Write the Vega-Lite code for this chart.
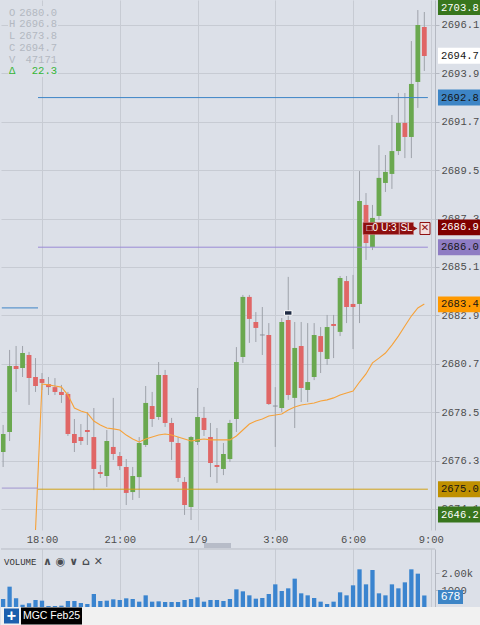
{
  "$schema": "https://vega.github.io/schema/vega-lite/v6.json",
  "background": "#dce0e8",
  "padding": 0,
  "spacing": 0,
  "config": {
    "view": {"stroke": null},
    "axis": {"labelFont": "Liberation Mono", "labelColor": "#4d4d4d", "gridColor": "#c7cbd3", "gridWidth": 1, "domainColor": "#b5b9c2", "tickColor": "#b5b9c2"}
  },
  "datasets": {
    "candles": [
      {"i": -6, "o": 2676.69, "h": 2677.92, "l": 2676.01, "c": 2677.51, "v": 471},
      {"i": -5, "o": 2677.60, "h": 2681.33, "l": 2677.19, "c": 2680.60, "v": 1196},
      {"i": -4, "o": 2680.60, "h": 2681.51, "l": 2679.42, "c": 2680.46, "v": 510},
      {"i": -3, "o": 2680.51, "h": 2681.51, "l": 2680.10, "c": 2681.19, "v": 137},
      {"i": -2, "o": 2681.10, "h": 2681.24, "l": 2678.83, "c": 2680.05, "v": 216},
      {"i": -1, "o": 2680.10, "h": 2680.96, "l": 2679.42, "c": 2679.69, "v": 412, "ma": 2672.7},
      {"i": 0, "o": 2680.01, "h": 2680.28, "l": 2679.51, "c": 2679.83, "v": 373, "ma": 2679.78},
      {"i": 1, "o": 2679.78, "h": 2680.10, "l": 2679.28, "c": 2679.64, "v": 59, "ma": 2679.74},
      {"i": 2, "o": 2679.64, "h": 2680.05, "l": 2679.28, "c": 2679.42, "v": 59, "ma": 2679.69},
      {"i": 3, "o": 2679.42, "h": 2679.74, "l": 2678.92, "c": 2679.28, "v": 78, "ma": 2679.64},
      {"i": 4, "o": 2679.33, "h": 2679.42, "l": 2677.42, "c": 2677.51, "v": 353, "ma": 2679.28},
      {"i": 5, "o": 2677.51, "h": 2678.19, "l": 2676.69, "c": 2677.10, "v": 353, "ma": 2678.69},
      {"i": 6, "o": 2677.37, "h": 2677.96, "l": 2677.01, "c": 2677.19, "v": 235, "ma": 2678.55},
      {"i": 7, "o": 2677.69, "h": 2678.51, "l": 2677.01, "c": 2677.60, "v": 176, "ma": 2678.46},
      {"i": 8, "o": 2677.37, "h": 2678.69, "l": 2674.96, "c": 2675.92, "v": 765, "ma": 2678.10},
      {"i": 9, "o": 2675.78, "h": 2676.10, "l": 2675.51, "c": 2675.69, "v": 353, "ma": 2677.92},
      {"i": 10, "o": 2675.60, "h": 2677.69, "l": 2675.10, "c": 2677.19, "v": 373, "ma": 2677.78},
      {"i": 11, "o": 2676.92, "h": 2679.15, "l": 2676.33, "c": 2676.60, "v": 451, "ma": 2677.74},
      {"i": 12, "o": 2676.51, "h": 2676.69, "l": 2675.87, "c": 2676.05, "v": 412, "ma": 2677.69},
      {"i": 13, "o": 2676.01, "h": 2676.37, "l": 2674.28, "c": 2674.83, "v": 510, "ma": 2677.46},
      {"i": 14, "o": 2674.87, "h": 2676.01, "l": 2674.51, "c": 2675.60, "v": 471, "ma": 2677.28},
      {"i": 15, "o": 2675.55, "h": 2677.37, "l": 2674.60, "c": 2677.10, "v": 314, "ma": 2677.15},
      {"i": 16, "o": 2677.01, "h": 2679.69, "l": 2676.92, "c": 2678.92, "v": 686, "ma": 2677.28},
      {"i": 17, "o": 2678.78, "h": 2679.42, "l": 2677.83, "c": 2678.19, "v": 314, "ma": 2677.37},
      {"i": 18, "o": 2678.28, "h": 2680.78, "l": 2678.15, "c": 2680.19, "v": 333, "ma": 2677.46},
      {"i": 19, "o": 2680.19, "h": 2680.42, "l": 2677.83, "c": 2678.01, "v": 294, "ma": 2677.51},
      {"i": 20, "o": 2678.01, "h": 2678.24, "l": 2676.33, "c": 2677.15, "v": 294, "ma": 2677.46},
      {"i": 21, "o": 2677.10, "h": 2677.37, "l": 2675.33, "c": 2675.51, "v": 294, "ma": 2677.37},
      {"i": 22, "o": 2675.33, "h": 2675.55, "l": 2673.83, "c": 2674.28, "v": 412, "ma": 2677.28},
      {"i": 23, "o": 2674.19, "h": 2677.42, "l": 2673.60, "c": 2677.37, "v": 471, "ma": 2677.19},
      {"i": 24, "o": 2677.15, "h": 2679.60, "l": 2677.01, "c": 2678.28, "v": 569, "ma": 2677.24},
      {"i": 25, "o": 2678.24, "h": 2678.74, "l": 2677.42, "c": 2677.69, "v": 314, "ma": 2677.28},
      {"i": 26, "o": 2677.37, "h": 2678.01, "l": 2675.55, "c": 2676.19, "v": 412, "ma": 2677.24},
      {"i": 27, "o": 2676.10, "h": 2677.78, "l": 2675.28, "c": 2676.01, "v": 412, "ma": 2677.24},
      {"i": 28, "o": 2675.92, "h": 2677.10, "l": 2675.64, "c": 2676.60, "v": 353, "ma": 2677.24},
      {"i": 29, "o": 2676.37, "h": 2678.15, "l": 2676.24, "c": 2678.01, "v": 471, "ma": 2677.24},
      {"i": 30, "o": 2678.19, "h": 2681.46, "l": 2677.60, "c": 2680.78, "v": 1039, "ma": 2677.42},
      {"i": 31, "o": 2681.01, "h": 2683.83, "l": 2680.74, "c": 2683.74, "v": 922, "ma": 2677.69},
      {"i": 32, "o": 2683.74, "h": 2683.83, "l": 2681.65, "c": 2682.74, "v": 686, "ma": 2677.96},
      {"i": 33, "o": 2682.60, "h": 2683.05, "l": 2681.69, "c": 2682.33, "v": 490, "ma": 2678.10},
      {"i": 34, "o": 2682.03, "h": 2683.28, "l": 2681.10, "c": 2681.99, "v": 529, "ma": 2678.19},
      {"i": 35, "o": 2682.01, "h": 2682.55, "l": 2678.83, "c": 2678.87, "v": 765, "ma": 2678.33},
      {"i": 36, "o": 2678.80, "h": 2679.64, "l": 2676.92, "c": 2678.76, "v": 1333, "ma": 2678.37},
      {"i": 37, "o": 2678.69, "h": 2682.78, "l": 2678.51, "c": 2682.60, "v": 941, "ma": 2678.42},
      {"i": 38, "o": 2682.69, "h": 2684.65, "l": 2679.06, "c": 2679.28, "v": 1098, "ma": 2678.60},
      {"i": 39, "o": 2679.15, "h": 2682.60, "l": 2677.78, "c": 2681.42, "v": 1667, "ma": 2678.74},
      {"i": 40, "o": 2681.51, "h": 2682.60, "l": 2678.96, "c": 2679.60, "v": 804, "ma": 2678.83},
      {"i": 41, "o": 2679.51, "h": 2682.55, "l": 2678.96, "c": 2679.87, "v": 686, "ma": 2678.87},
      {"i": 42, "o": 2680.10, "h": 2682.55, "l": 2679.96, "c": 2682.01, "v": 529, "ma": 2678.92},
      {"i": 43, "o": 2681.96, "h": 2682.37, "l": 2680.28, "c": 2681.24, "v": 314, "ma": 2679.01},
      {"i": 44, "o": 2680.92, "h": 2682.92, "l": 2680.65, "c": 2682.37, "v": 176, "ma": 2679.06},
      {"i": 45, "o": 2682.51, "h": 2682.92, "l": 2680.96, "c": 2682.42, "v": 314, "ma": 2679.15},
      {"i": 46, "o": 2682.15, "h": 2684.69, "l": 2681.96, "c": 2684.60, "v": 863, "ma": 2679.28},
      {"i": 47, "o": 2684.46, "h": 2684.69, "l": 2682.55, "c": 2683.28, "v": 686, "ma": 2679.37},
      {"i": 48, "o": 2683.42, "h": 2684.74, "l": 2681.37, "c": 2683.28, "v": 1275, "ma": 2679.46},
      {"i": 49, "o": 2683.42, "h": 2689.46, "l": 2682.55, "c": 2688.10, "v": 2216, "ma": 2679.87},
      {"i": 50, "o": 2687.92, "h": 2688.46, "l": 2685.42, "c": 2686.19, "v": 1333, "ma": 2680.24},
      {"i": 51, "o": 2686.01, "h": 2687.92, "l": 2685.87, "c": 2687.33, "v": 2176, "ma": 2680.74},
      {"i": 52, "o": 2687.42, "h": 2690.64, "l": 2687.24, "c": 2689.15, "v": 804, "ma": 2680.96},
      {"i": 53, "o": 2688.92, "h": 2690.19, "l": 2688.51, "c": 2689.42, "v": 686, "ma": 2681.19},
      {"i": 54, "o": 2689.33, "h": 2692.01, "l": 2688.65, "c": 2690.37, "v": 1333, "ma": 2681.55},
      {"i": 55, "o": 2690.37, "h": 2693.01, "l": 2690.19, "c": 2691.65, "v": 1098, "ma": 2681.96},
      {"i": 56, "o": 2691.65, "h": 2693.01, "l": 2690.05, "c": 2691.01, "v": 1451, "ma": 2682.42},
      {"i": 57, "o": 2691.01, "h": 2695.37, "l": 2690.05, "c": 2693.42, "v": 2216, "ma": 2682.87},
      {"i": 58, "o": 2693.51, "h": 2696.78, "l": 2692.33, "c": 2696.10, "v": 1961, "ma": 2683.24},
      {"i": 59, "o": 2696.01, "h": 2696.69, "l": 2694.01, "c": 2694.69, "v": 678, "ma": 2683.42}
    ],
    "tags": [
      {"p": 2694.7, "kind": "last"},
      {"p": 2692.8, "kind": "blue"},
      {"p": 2686.9, "kind": "order"},
      {"p": 2686.0, "kind": "purple"},
      {"p": 2683.4, "kind": "ma"},
      {"p": 2675.0, "kind": "gold"}
    ],
    "readout": [
      {"keys": ["O", "H", "L", "C", "V"], "vals": ["2680.0", "2696.8", "2673.8", "2694.7", "47171"], "dk": "Δ", "dv": "22.3"}
    ]
  },
  "resolve": {"scale": {"x": "independent", "y": "independent"}},
  "vconcat": [
    {
      "width": 434,
      "height": 530,
      "layer": [
        {
          "data": {"name": "candles"},
          "mark": {"type": "rule", "color": "#9ea2aa", "strokeWidth": 1, "clip": true},
          "encoding": {
            "x": {"field": "i", "type": "quantitative",
              "scale": {"domain": [-6.327, 60.648], "nice": false, "zero": false, "padding": 0},
              "axis": {"values": [0, 12, 24, 36, 48, 60], "labelExpr": "datum.value==0?'18:00':datum.value==12?'21:00':datum.value==24?'1/9':datum.value==36?'3:00':datum.value==48?'6:00':'9:00'", "grid": true, "ticks": false, "domain": false, "labelPadding": 4, "labelFontSize": 10.5, "labelOverlap": false, "labelFlush": false, "minExtent": 17, "maxExtent": 17, "title": null}},
            "y": {"field": "l", "type": "quantitative",
              "scale": {"domain": [2673.145, 2697.236], "nice": false, "zero": false, "clamp": true, "padding": 0},
              "axis": {"orient": "right", "values": [2674.1, 2675.2, 2676.3, 2677.4, 2678.5, 2679.6, 2680.7, 2681.8, 2682.9, 2684.0, 2685.1, 2686.2, 2687.3, 2688.4, 2689.5, 2690.6, 2691.7, 2692.8, 2693.9, 2695.0, 2696.1], "format": ".1f", "grid": true, "tickSize": 4, "labelPadding": 2, "labelFontSize": 10.5, "labelOverlap": false, "labelBound": false, "title": null}},
            "y2": {"field": "h"}
          }
        },
        {
          "data": {"name": "candles"},
          "mark": {"type": "bar", "size": 4.8, "clip": true, "orient": "vertical"},
          "encoding": {
            "x": {"field": "i", "type": "quantitative"},
            "y": {"field": "o", "type": "quantitative"},
            "y2": {"field": "c"},
            "color": {"condition": [{"test": "abs(datum.c-datum.o)<0.05", "value": "#858a93"}, {"test": "datum.c>datum.o", "value": "#6aa84f"}], "value": "#e06666"}
          }
        },
        {
          "data": {"name": "candles"},
          "mark": {"type": "line", "color": "#f6a23a", "strokeWidth": 1.1, "clip": true},
          "encoding": {
            "x": {"field": "i", "type": "quantitative"},
            "y": {"field": "ma", "type": "quantitative"}
          }
        },
        {
          "data": {"values": [{"p": 2692.8, "s": -0.617, "e": 59.55}]},
          "mark": {"type": "rule", "strokeWidth": 1, "color": "#3d85c6"},
          "encoding": {"x": {"field": "s", "type": "quantitative"}, "x2": {"field": "e"}, "y": {"field": "p", "type": "quantitative"}}
        },
        {
          "data": {"values": [{"p": 2686.0, "s": -0.617, "e": 59.55}]},
          "mark": {"type": "rule", "strokeWidth": 1, "color": "#9a8ad6"},
          "encoding": {"x": {"field": "s", "type": "quantitative"}, "x2": {"field": "e"}, "y": {"field": "p", "type": "quantitative"}}
        },
        {
          "data": {"values": [{"p": 2675.0, "s": -0.617, "e": 59.55}]},
          "mark": {"type": "rule", "strokeWidth": 1, "color": "#d1a21a"},
          "encoding": {"x": {"field": "s", "type": "quantitative"}, "x2": {"field": "e"}, "y": {"field": "p", "type": "quantitative"}}
        },
        {
          "data": {"values": [{"p": 2683.24, "s": -6.2, "e": -0.617}]},
          "mark": {"type": "rule", "strokeWidth": 1, "color": "#3d85c6"},
          "encoding": {"x": {"field": "s", "type": "quantitative"}, "x2": {"field": "e"}, "y": {"field": "p", "type": "quantitative"}}
        },
        {
          "data": {"values": [{"p": 2675.05, "s": -6.2, "e": -0.617}]},
          "mark": {"type": "rule", "strokeWidth": 1, "color": "#a095cf"},
          "encoding": {"x": {"field": "s", "type": "quantitative"}, "x2": {"field": "e"}, "y": {"field": "p", "type": "quantitative"}}
        },
        {
          "data": {"values": [{"i": 38, "p": 2683.01}]},
          "mark": {"type": "point", "shape": "M-1,-0.6H1V0.6H-1Z", "size": 56, "filled": true, "fill": "#1f2b44", "stroke": "#ffffff", "strokeWidth": 1, "opacity": 1},
          "encoding": {
            "x": {"field": "i", "type": "quantitative"},
            "y": {"field": "p", "type": "quantitative"}
          }
        },
        {
          "data": {"values": [{"p": 2686.85}]},
          "encoding": {"y": {"field": "p", "type": "quantitative"}},
          "layer": [
            {"mark": {"type": "point", "shape": "M-1,-0.333H1V0.333H-1Z", "size": 1296, "filled": true, "fill": "#8e0f0f", "stroke": "#c77a7a", "strokeWidth": 0.6, "opacity": 1},
             "encoding": {"x": {"datum": 52.315, "type": "quantitative"}}},
            {"mark": {"type": "point", "shape": "M-1,-0.857H1V0.857H-1Z", "size": 196, "filled": true, "fill": "#8e0f0f", "stroke": "#c77a7a", "strokeWidth": 0.6, "opacity": 1},
             "encoding": {"x": {"datum": 56.25, "type": "quantitative"}}},
            {"mark": {"type": "point", "shape": "triangle-right", "size": 26, "filled": true, "fill": "#8e0f0f", "opacity": 1, "strokeWidth": 0},
             "encoding": {"x": {"datum": 57.6, "type": "quantitative"}}},
            {"mark": {"type": "point", "shape": "M-1,-1.2H1V1.2H-1Z", "size": 100, "filled": true, "fill": "#f3dede", "stroke": "#8e0f0f", "strokeWidth": 1, "opacity": 1},
             "encoding": {"x": {"datum": 59.105, "type": "quantitative"}}},
            {"mark": {"type": "text", "font": "Liberation Sans", "fontSize": 10, "color": "#ffffff", "align": "center", "baseline": "middle"},
             "encoding": {"x": {"datum": 52.4, "type": "quantitative"}, "text": {"value": "□0 U:3"}}},
            {"mark": {"type": "text", "font": "Liberation Sans", "fontSize": 10, "color": "#ffffff", "align": "center", "baseline": "middle"},
             "encoding": {"x": {"datum": 56.25, "type": "quantitative"}, "text": {"value": "SL"}}},
            {"mark": {"type": "text", "font": "DejaVu Sans", "fontSize": 10, "fontWeight": "bold", "color": "#8e0f0f", "align": "center", "baseline": "middle"},
             "encoding": {"x": {"datum": 59.105, "type": "quantitative"}, "text": {"value": "✕"}}}
          ]
        },
        {
          "data": {"name": "tags"},
          "encoding": {"y": {"field": "p", "type": "quantitative"}},
          "layer": [
            {"mark": {"type": "point", "shape": "M-1,-0.38H1V0.38H-1Z", "size": 1764, "filled": true, "opacity": 1, "strokeWidth": 0},
             "encoding": {"x": {"datum": 64.35, "type": "quantitative"},
               "fill": {"condition": [{"test": "datum.kind=='last'", "value": "#ffffff"}, {"test": "datum.kind=='blue'", "value": "#3d85c6"}, {"test": "datum.kind=='order'", "value": "#7f0000"}, {"test": "datum.kind=='purple'", "value": "#8e7cc3"}, {"test": "datum.kind=='ma'", "value": "#ff9900"}], "value": "#bf9000"}}},
            {"mark": {"type": "text", "font": "Liberation Mono", "fontSize": 10.5, "align": "left", "baseline": "middle"},
             "encoding": {"x": {"datum": 61.574, "type": "quantitative"},
               "text": {"field": "p", "type": "quantitative", "format": ".1f"},
               "color": {"condition": {"test": "datum.kind=='order'", "value": "#ffffff"}, "value": "#151515"}}}
          ]
        },
        {
          "data": {"values": [{"p": 2703.8}]},
          "encoding": {"y": {"field": "p", "type": "quantitative"}},
          "layer": [
            {"mark": {"type": "point", "shape": "M-1,-0.357H1V0.357H-1Z", "size": 1764, "filled": true, "color": "#38761d", "opacity": 1, "strokeWidth": 0, "yOffset": 7.5},
             "encoding": {"x": {"datum": 64.35, "type": "quantitative"}}},
            {"mark": {"type": "text", "font": "Liberation Mono", "fontSize": 10.5, "align": "left", "baseline": "middle", "color": "#ffffff", "yOffset": 7.5},
             "encoding": {"x": {"datum": 61.574, "type": "quantitative"}, "text": {"field": "p", "type": "quantitative", "format": ".1f"}}}
          ]
        },
        {
          "data": {"values": [{"p": 2646.2}]},
          "encoding": {"y": {"field": "p", "type": "quantitative"}},
          "layer": [
            {"mark": {"type": "point", "shape": "M-1,-0.38H1V0.38H-1Z", "size": 1764, "filled": true, "color": "#38761d", "opacity": 1, "strokeWidth": 0, "yOffset": -15.5},
             "encoding": {"x": {"datum": 64.35, "type": "quantitative"}}},
            {"mark": {"type": "text", "font": "Liberation Mono", "fontSize": 10.5, "align": "left", "baseline": "middle", "color": "#ffffff", "yOffset": -15.5},
             "encoding": {"x": {"datum": 61.574, "type": "quantitative"}, "text": {"field": "p", "type": "quantitative", "format": ".1f"}}}
          ]
        },
        {
          "data": {"values": [{}]},
          "mark": {"type": "point", "shape": "M-1,-0.185H1V0.185H-1Z", "size": 729, "filled": true, "color": "#b7bcc8", "opacity": 1, "strokeWidth": 0, "yOffset": 15.5},
          "encoding": {"x": {"datum": 27.08, "type": "quantitative"}, "y": {"datum": 2673.145, "type": "quantitative"}}
        },
        {
          "data": {"name": "readout"},
          "layer": [
            {"mark": {"type": "point", "shape": "M-1,-1.42H1V1.42H-1Z", "size": 2500, "filled": true, "color": "#dce0e8", "opacity": 1, "strokeWidth": 0},
             "encoding": {"x": {"datum": -1.389, "type": "quantitative"}, "y": {"datum": 2695.35, "type": "quantitative"}}},
            {"mark": {"type": "text", "font": "Liberation Mono", "fontSize": 10.5, "lineHeight": 11.8, "align": "left", "baseline": "top", "color": "#b3b8c1"},
             "encoding": {"x": {"datum": -5.09, "type": "quantitative"}, "y": {"datum": 2696.895, "type": "quantitative"}, "text": {"field": "keys"}}},
            {"mark": {"type": "text", "font": "Liberation Mono", "fontSize": 10.5, "lineHeight": 11.8, "align": "right", "baseline": "top", "color": "#b3b8c1"},
             "encoding": {"x": {"datum": 2.315, "type": "quantitative"}, "y": {"datum": 2696.895, "type": "quantitative"}, "text": {"field": "vals"}}},
            {"mark": {"type": "text", "font": "Liberation Mono", "fontSize": 10.5, "align": "left", "baseline": "middle", "color": "#35b535"},
             "encoding": {"x": {"datum": -5.09, "type": "quantitative"}, "y": {"datum": 2694.009, "type": "quantitative"}, "text": {"field": "dk"}}},
            {"mark": {"type": "text", "font": "Liberation Mono", "fontSize": 10.5, "align": "right", "baseline": "middle", "color": "#35b535"},
             "encoding": {"x": {"datum": 2.315, "type": "quantitative"}, "y": {"datum": 2694.009, "type": "quantitative"}, "text": {"field": "dv"}}}
          ]
        }
      ]
    },
    {
      "width": 434,
      "height": 58,
      "layer": [
        {
          "data": {"name": "candles"},
          "mark": {"type": "bar", "size": 4.3, "color": "#3a84cf", "orient": "vertical"},
          "encoding": {
            "x": {"field": "i", "type": "quantitative",
              "scale": {"domain": [-6.327, 60.648], "nice": false, "zero": false, "padding": 0},
              "axis": {"values": [0, 12, 24, 36, 48, 60], "labels": false, "ticks": false, "domain": false, "grid": true, "title": null, "minExtent": 0, "maxExtent": 0}},
            "y": {"field": "v", "type": "quantitative",
              "scale": {"domain": [0, 3412], "nice": false, "padding": 0},
              "axis": {"orient": "right", "values": [1000, 2000], "labelExpr": "datum.value==2000?'2.00k':'1000'", "grid": false, "tickSize": 4, "labelPadding": 2, "labelFontSize": 10.5, "title": null}}
          }
        },
        {
          "data": {"values": [{}]},
          "mark": {"type": "rule", "color": "#b7bbc4"},
          "encoding": {"y": {"datum": 3412, "type": "quantitative"}}
        },
        {
          "data": {"values": [{}]},
          "mark": {"type": "text", "font": "Liberation Mono", "fontSize": 9, "align": "left", "baseline": "middle", "color": "#333333"},
          "encoding": {"x": {"datum": -5.864, "type": "quantitative"}, "y": {"datum": 2647, "type": "quantitative"}, "text": {"value": "VOLUME"}}
        },
        {
          "data": {"values": [{}]},
          "mark": {"type": "text", "font": "DejaVu Sans", "fontSize": 11, "fontWeight": "bold", "align": "left", "baseline": "middle", "color": "#4a4d52"},
          "encoding": {"x": {"datum": 0.154, "type": "quantitative"}, "y": {"datum": 2647, "type": "quantitative"}, "text": {"value": "∧ ◉ ∨ ⌂ ✕"}}
        },
        {
          "data": {"values": [{"v": 678}]},
          "encoding": {"y": {"field": "v", "type": "quantitative"}},
          "layer": [
            {"mark": {"type": "point", "shape": "M-1,-0.56H1V0.56H-1Z", "size": 625, "filled": true, "color": "#3d85c6", "opacity": 1, "strokeWidth": 0, "yOffset": 1.5},
             "encoding": {"x": {"datum": 63.04, "type": "quantitative"}}},
            {"mark": {"type": "text", "font": "Liberation Sans", "fontSize": 11.5, "align": "center", "baseline": "middle", "color": "#ffffff", "yOffset": 1.5},
             "encoding": {"x": {"datum": 63.04, "type": "quantitative"}, "text": {"field": "v", "type": "quantitative"}}}
          ]
        }
      ]
    },
    {
      "width": 480,
      "height": 18,
      "view": {"fill": "#f1f1f1", "stroke": null},
      "data": {"values": [{"t": "MGC Feb25"}]},
      "layer": [
        {"mark": {"type": "point", "shape": "square", "size": 225, "filled": true, "color": "#1b5fae", "opacity": 1, "strokeWidth": 0},
         "encoding": {"x": {"datum": 10.5, "type": "quantitative", "scale": {"domain": [0, 480], "nice": false, "zero": false}, "axis": null}}},
        {"mark": {"type": "text", "font": "Liberation Sans", "fontSize": 16, "fontWeight": "bold", "align": "center", "baseline": "middle", "color": "#ffffff"},
         "encoding": {"x": {"datum": 10.5, "type": "quantitative"}, "text": {"value": "+"}}},
        {"mark": {"type": "point", "shape": "M-1,-0.279H1V0.279H-1Z", "size": 3721, "filled": true, "color": "#000000", "opacity": 1, "strokeWidth": 0},
         "encoding": {"x": {"datum": 50.5, "type": "quantitative"}}},
        {"mark": {"type": "text", "font": "Liberation Sans", "fontSize": 10.5, "align": "center", "baseline": "middle", "color": "#ffffff"},
         "encoding": {"x": {"datum": 50.5, "type": "quantitative"}, "text": {"field": "t"}}}
      ]
    }
  ]
}
